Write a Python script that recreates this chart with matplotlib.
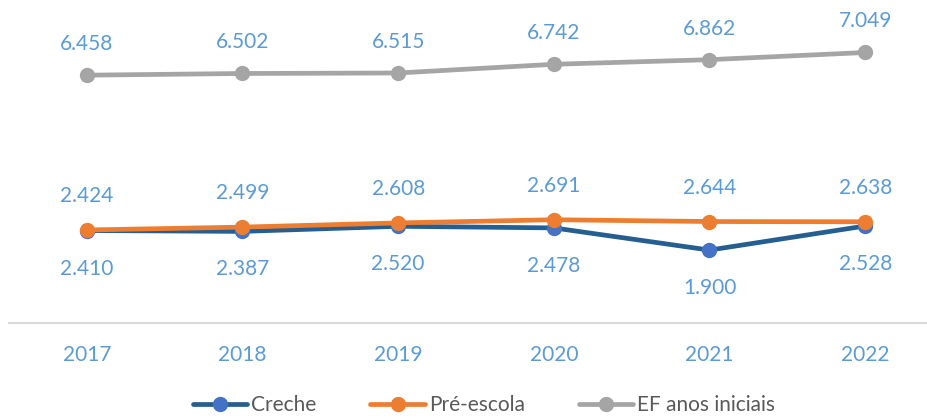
import matplotlib
matplotlib.use("Agg")
import matplotlib.pyplot as plt

years = ["2017", "2018", "2019", "2020", "2021", "2022"]
creche = [2410, 2387, 2520, 2478, 1900, 2528]
pre_escola = [2424, 2499, 2608, 2691, 2644, 2638]
ef_iniciais = [6458, 6502, 6515, 6742, 6862, 7049]

plt.rcParams["font.family"] = ["Lato", "DejaVu Sans"]

LABEL_COLOR = "#5B9BD5"

fig = plt.figure(figsize=(9.28, 4.19), dpi=100)
ax = fig.add_axes([9 / 928, 96 / 419, 934 / 928, 307 / 419])

x = list(range(len(years)))

series = [
    (creche, "Creche", "#255E91", "#4472C4", -38),
    (pre_escola, "Pré-escola", "#ED7D31", "#ED7D31", 34),
    (ef_iniciais, "EF anos iniciais", "#A5A5A5", "#A5A5A5", 31),
]

for values, name, line_c, marker_c, offset in series:
    ax.plot(
        x, values,
        color=line_c, linewidth=3.4,
        marker="o", markersize=10,
        markerfacecolor=marker_c, markeredgecolor=marker_c,
        label=name, solid_capstyle="round",
    )
    for xi, v in zip(x, values):
        ax.annotate(
            f"{v / 1000:.3f}",
            (xi, v),
            xytext=(0, offset),
            textcoords="offset pixels",
            ha="center", va="center",
            fontsize=15, color=LABEL_COLOR,
        )

ax.set_xlim(-0.5, 5.5)
ax.set_ylim(0, 8000)
ax.set_yticks([])
ax.set_xticks(x)
ax.set_xticklabels(years, fontsize=15, color=LABEL_COLOR)
ax.tick_params(axis="x", length=0, pad=16)

for side in ["top", "right", "left"]:
    ax.spines[side].set_visible(False)
ax.spines["bottom"].set_color("#D9D9D9")
ax.spines["bottom"].set_linewidth(1.5)

fig.legend(
    loc="center", bbox_to_anchor=(484 / 928, 1 - 405 / 419),
    ncol=3, frameon=False, fontsize=15,
    labelcolor="#595959", handlelength=2.6, handletextpad=0.2,
    columnspacing=2.6,
)

fig.savefig("out.png", dpi=100)
